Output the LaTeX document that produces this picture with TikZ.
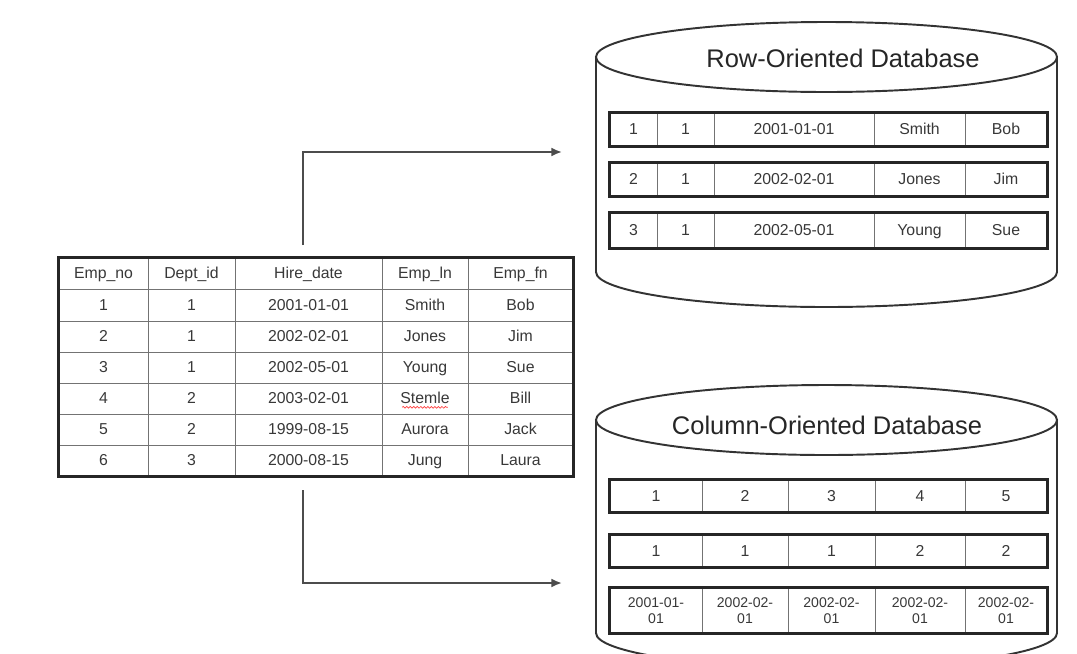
\documentclass[tikz,border=0pt]{standalone}
\usepackage{fontspec}
\setmainfont{Liberation Sans}
\usetikzlibrary{arrows.meta,decorations.pathmorphing}

\begin{document}
\begin{tikzpicture}[x=0.02cm,y=0.02cm,
        cell/.style={draw=black!55, line width=0.5pt, inner sep=0pt, text=black!78, align=center},
        oneline/.style={text height=1.55ex, text depth=.4ex},
        twoline/.style={},
        frame/.style={draw=black!85, line width=1.6pt},
        cyl/.style={draw=black!80, line width=1.1pt},
        flow/.style={draw=black!70, line width=1.1pt, -{Latex[length=6pt,width=5pt]}},
        dbtitle/.style={font=\fontsize{14.5}{16}\selectfont, text=black!85}]
        \useasboundingbox (0,-653) rectangle (1077,0);
        \clip (0,-653) rectangle (1077,0);

        % source table
        \foreach \top/\bot/\cells [count=\r] in {
                258/289/{Emp\_no,Dept\_id,Hire\_date,Emp\_ln,Emp\_fn},
                289/321/{1,1,2001-01-01,Smith,Bob},
                321/352/{2,1,2002-02-01,Jones,Jim},
                352/383/{3,1,2002-05-01,Young,Sue},
                383/414/{4,2,2003-02-01,Stemle,Bill},
                414/445/{5,2,1999-08-15,Aurora,Jack},
                445/476/{6,3,2000-08-15,Jung,Laura}}
        \foreach \txt [count=\c] in \cells {
                \pgfmathsetmacro\xl{{59,148,235,382,468,573}[\c-1]}
                \pgfmathsetmacro\xr{{59,148,235,382,468,573}[\c]}
                \node[cell, oneline, font=\fontsize{9}{10}\selectfont,
                        minimum width={(\xr-\xl)*0.02cm}, minimum height={(\bot-\top)*0.02cm}]
                        (t-\r-\c) at ({(\xl+\xr)/2},{-(\top+\bot)/2}) {\txt};
        }
        \draw[frame] (t-1-1.north west) rectangle (t-7-5.south east);
        \draw[red!75, line width=0.4pt, decorate, decoration={snake, amplitude=0.5pt, segment length=2pt}]
                ([xshift=-13pt,yshift=-5pt]t-5-4.center) -- ([xshift=13pt,yshift=-5pt]t-5-4.center);

        % row-oriented store
        \draw[cyl] (826.5,-57) ellipse [x radius=230.5, y radius=35];
        \draw[cyl] (596,-57) -- (596,-272) arc [start angle=180, end angle=360, x radius=230.5, y radius=35] -- (1057,-57);
        \node[dbtitle] (rowdb) at (843,-58) {Row-Oriented Database};
        \foreach \top/\bot/\cells [count=\s] in {
                113/146/{1,1,2001-01-01,Smith,Bob},
                163/196/{2,1,2002-02-01,Jones,Jim},
                213/248/{3,1,2002-05-01,Young,Sue}}
        {
                \foreach \txt [count=\c] in \cells {
                        \pgfmathsetmacro\xl{{610,657,714,874,965,1047}[\c-1]}
                        \pgfmathsetmacro\xr{{610,657,714,874,965,1047}[\c]}
                        \node[cell, oneline, font=\fontsize{9}{10}\selectfont,
                                minimum width={(\xr-\xl)*0.02cm}, minimum height={(\bot-\top)*0.02cm}]
                                (r-\s-\c) at ({(\xl+\xr)/2},{-(\top+\bot)/2}) {\txt};
                }
                \draw[frame] (r-\s-1.north west) rectangle (r-\s-5.south east);
        }

        % column-oriented store
        \draw[cyl] (826.5,-420) ellipse [x radius=230.5, y radius=35];
        \draw[cyl] (596,-420) -- (596,-633) arc [start angle=180, end angle=360, x radius=230.5, y radius=35] -- (1057,-420);
        \node[dbtitle] (coldb) at (827,-425) {Column-Oriented Database};
        \foreach \top/\bot/\sz/\st/\cells [count=\s] in {
                480/512/9/oneline/{1,2,3,4,5},
                535/567/9/oneline/{1,1,1,2,2},
                588/633/8/twoline/{2001-01-\\01,2002-02-\\01,2002-02-\\01,2002-02-\\01,2002-02-\\01}}
        {
                \foreach \txt [count=\c] in \cells {
                        \pgfmathsetmacro\xl{{610,702,788,875,965,1047}[\c-1]}
                        \pgfmathsetmacro\xr{{610,702,788,875,965,1047}[\c]}
                        \node[cell, \st, font=\fontsize{\sz}{9.5}\selectfont,
                                minimum width={(\xr-\xl)*0.02cm}, minimum height={(\bot-\top)*0.02cm}]
                                (c-\s-\c) at ({(\xl+\xr)/2},{-(\top+\bot)/2}) {\txt};
                }
                \draw[frame] (c-\s-1.north west) rectangle (c-\s-5.south east);
        }

        % connectors
        \coordinate (up) at (303,-245);
        \coordinate (down) at (303,-490);
        \coordinate (rowin) at (562,-152);
        \coordinate (colin) at (562,-583);
        \draw[flow] (up) |- (rowin);
        \draw[flow] (down) |- (colin);
\end{tikzpicture}
\end{document}
